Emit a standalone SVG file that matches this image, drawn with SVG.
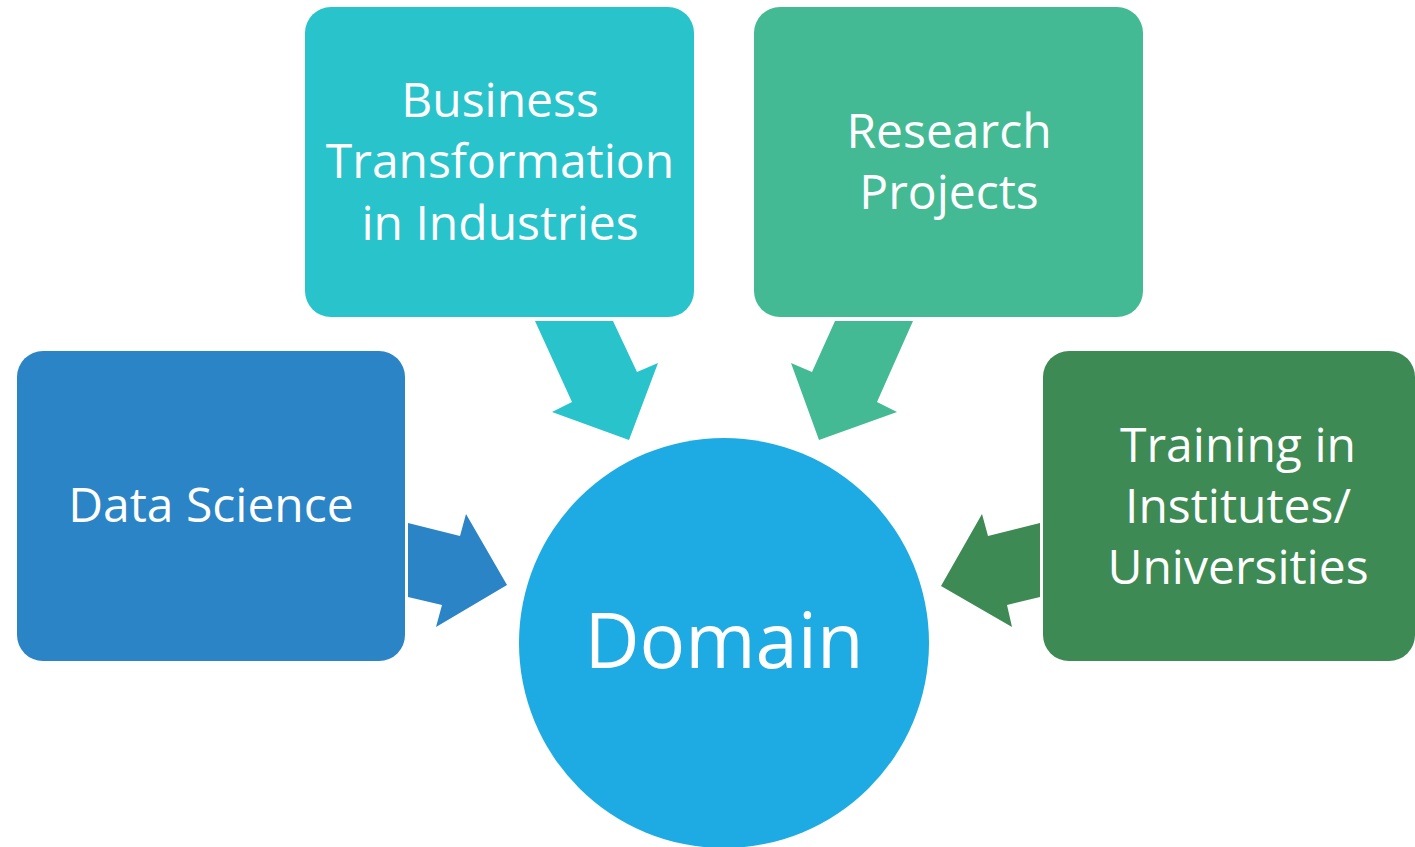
<svg xmlns="http://www.w3.org/2000/svg" width="1415" height="847" viewBox="0 0 1415 847">
<style>
.lbl{font-family:"Open Sans","Noto Sans",sans-serif;font-size:48px;fill:#ffffff;text-anchor:middle}
.big{font-family:"Open Sans","Noto Sans",sans-serif;font-size:76px;fill:#ffffff;text-anchor:middle}
</style>
<rect width="1415" height="847" fill="#ffffff"/>
<g id="connectors">
<polygon points="408,523 460,536 466,514 507,585 436,627 442,605 408,597" fill="#2A84C6"/>
<polygon points="535,321 613,321 637,372 658,363 629,440 552,412 572,402" fill="#29C3CB"/>
<polygon points="835,321 913,321 877,402 897,412 819,440 791,363 812,372" fill="#43BA94"/>
<polygon points="1040,523 988,536 982,514 941,586 1012,627 1007,605 1040,597" fill="#3E8A55"/>
</g>
<g id="data-science">
<rect x="17" y="351" width="388" height="310" rx="26" fill="#2A84C6"/>
<text class="lbl" x="211" y="522">Data Science</text>
</g>
<g id="business">
<rect x="305" y="7" width="389" height="310" rx="26" fill="#29C3CB"/>
<text class="lbl" x="500" y="117">Business</text>
<text class="lbl" x="500" y="178">Transformation</text>
<text class="lbl" x="500" y="240">in Industries</text>
</g>
<g id="research">
<rect x="754" y="7" width="389" height="310" rx="26" fill="#43BA94"/>
<text class="lbl" x="949" y="148">Research</text>
<text class="lbl" x="949" y="209">Projects</text>
</g>
<g id="training">
<rect x="1043" y="351" width="372" height="310" rx="26" fill="#3E8A55"/>
<text class="lbl" x="1238" y="462">Training in</text>
<text class="lbl" x="1238" y="523">Institutes/</text>
<text class="lbl" x="1238" y="584">Universities</text>
</g>
<g id="domain">
<circle cx="724" cy="643" r="205" fill="#1EAAE2"/>
<text class="big" x="724" y="668">Domain</text>
</g>
</svg>
